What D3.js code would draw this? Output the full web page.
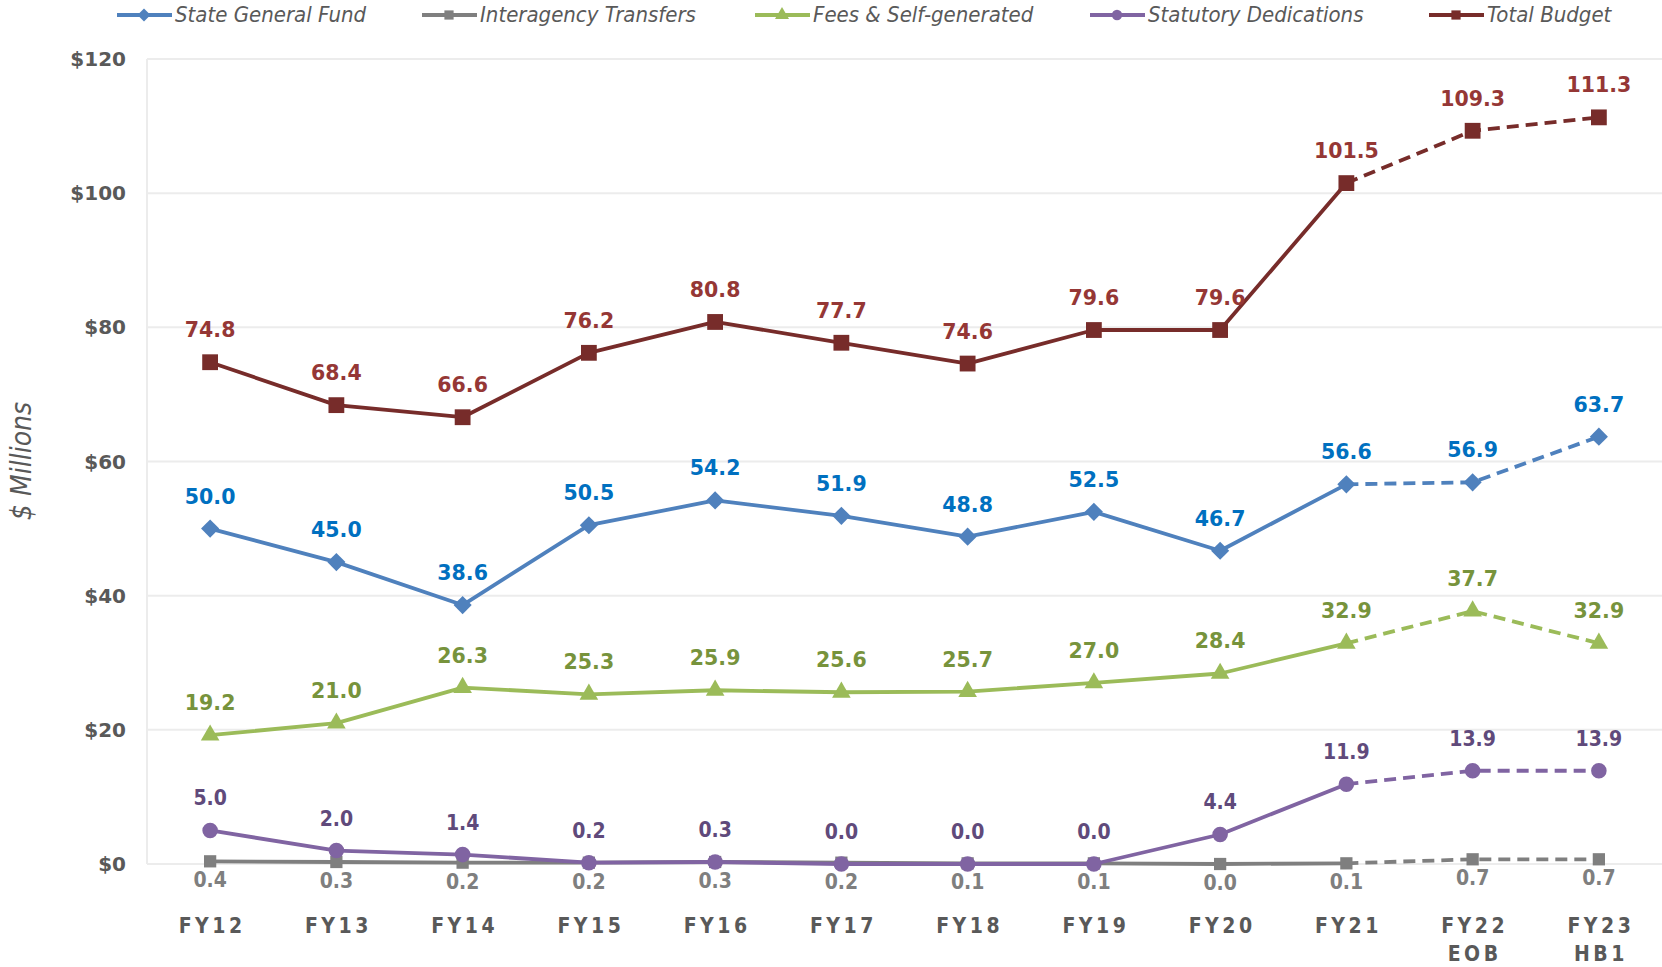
<!DOCTYPE html>
<meta charset="utf-8">
<style>
    body { margin: 0; background: #fff; }
    .grid line { stroke: #ececec; stroke-width: 2px; }
    .ytick { font-family: "DejaVu Sans", sans-serif; font-weight: bold; font-size: 20px; fill: #595959; }
    .xtick { font-family: "DejaVu Sans Condensed", "DejaVu Sans", sans-serif; font-weight: bold; font-size: 21px; fill: #595959; letter-spacing: 3.5px; }
    .legend text { font-family: "Liberation Sans Narrow", "DejaVu Sans Condensed", sans-serif; font-style: italic; font-size: 22px; fill: #595959; }
    .lab { font-family: "DejaVu Sans", sans-serif; font-weight: bold; font-size: 20.5px; }
    .lab.narrow { font-family: "DejaVu Sans Condensed", sans-serif; font-size: 21px; }
</style>
<svg width="1662" height="967"></svg>
<script src="https://d3js.org/d3.v7.min.js"></script>
<script>

    // fiscal years (second line of label after \n)
    var years = ["FY12", "FY13", "FY14", "FY15", "FY16", "FY17", "FY18", "FY19", "FY20", "FY21", "FY22\nEOB", "FY23\nHB1"];

    var stateGeneralFund = [50.0, 45.0, 38.6, 50.5, 54.2, 51.9, 48.8, 52.5, 46.7, 56.6, 56.9, 63.7];
    var interagency = [0.4, 0.3, 0.2, 0.2, 0.3, 0.2, 0.1, 0.1, 0.0, 0.1, 0.7, 0.7];
    var feesSelfGen = [19.2, 21.0, 26.3, 25.3, 25.9, 25.6, 25.7, 27.0, 28.4, 32.9, 37.7, 32.9];
    var statutory = [5.0, 2.0, 1.4, 0.2, 0.3, 0.0, 0.0, 0.0, 4.4, 11.9, 13.9, 13.9];
    var totalBudget = [74.8, 68.4, 66.6, 76.2, 80.8, 77.7, 74.6, 79.6, 79.6, 101.5, 109.3, 111.3];

    var yTicks = [0, 20, 40, 60, 80, 100, 120];

    // last actual year; after this the line is dashed
    var actualIdx = 9;

    var series = [
        {name: "State General Fund", values: stateGeneralFund, color: "#4F81BD", label: "#0070C0", sym: d3.symbolSquare, rot: 45, size: 165, below: false, narrow: false},
        {name: "Interagency Transfers", values: interagency, color: "#7F7F7F", label: "#7F7F7F", sym: d3.symbolSquare, rot: 0, size: 150, below: true, narrow: true},
        {name: "Fees & Self-generated", values: feesSelfGen, color: "#9BBB59", label: "#77933C", sym: d3.symbolTriangle, rot: 0, size: 150, below: false, narrow: false},
        {name: "Statutory Dedications", values: statutory, color: "#8064A2", label: "#604A7B", sym: d3.symbolCircle, rot: 0, size: 190, below: false, narrow: true},
        {name: "Total Budget", values: totalBudget, color: "#772C2A", label: "#953735", sym: d3.symbolSquare, rot: 0, size: 250, below: false, narrow: false}
    ];

    var svg = d3.select("svg"),
        width = +svg.attr("width"),
        height = +svg.attr("height");

    var plotL = 147, plotR = 1662, plotT = 59, plotB = 864;

    var x = d3.scalePoint().domain(years).range([plotL, plotR]).padding(0.5);
    var y = d3.scaleLinear().domain([0, 120]).range([plotB, plotT]);

    // gridlines
    var grid = svg.append("g").attr("class", "grid");
    grid.selectAll("line.h")
        .data(yTicks)
        .enter()
        .append("line")
        .attr("x1", plotL).attr("x2", plotR)
        .attr("y1", function(d) { return y(d); })
        .attr("y2", function(d) { return y(d); });
    grid.append("line")
        .attr("x1", plotL).attr("x2", plotL)
        .attr("y1", plotT).attr("y2", plotB);

    // y axis labels
    svg.append("g")
        .selectAll("text")
        .data(yTicks)
        .enter()
        .append("text")
        .attr("class", "ytick")
        .attr("x", 126)
        .attr("y", function(d) { return y(d) + 7; })
        .attr("text-anchor", "end")
        .text(function(d) { return "$" + d; });

    svg.append("text")
        .attr("transform", "translate(31," + 461 + ") rotate(-90)")
        .attr("text-anchor", "middle")
        .attr("font-family", "Liberation Sans Narrow, DejaVu Sans Condensed, sans-serif")
        .attr("font-style", "italic")
        .attr("font-size", 28)
        .attr("fill", "#595959")
        .text("$ Millions");

    // x labels
    var xl = svg.append("g")
        .selectAll("text")
        .data(years)
        .enter()
        .append("text")
        .attr("class", "xtick")
        .attr("text-anchor", "middle")
        .attr("transform", function(d) { return "translate(" + (x(d) + 2) + ",933)"; });
    xl.selectAll("tspan")
        .data(function(d) { return d.split("\n"); })
        .enter()
        .append("tspan")
        .attr("x", 0)
        .attr("dy", function(d, i) { return i ? 28 : 0; })
        .text(function(d) { return d; });

    var line = d3.line()
        .x(function(d) { return x(years[d.i]); })
        .y(function(d) { return y(d.v); });

    series.forEach(function(s) {
        var pts = s.values.map(function(v, i) { return {i: i, v: v}; });
        var g = svg.append("g");

        g.append("path")
            .attr("d", line(pts.slice(0, actualIdx + 1)))
            .attr("fill", "none")
            .attr("stroke", s.color)
            .attr("stroke-width", 3.8)
            .attr("stroke-linejoin", "round");
        g.append("path")
            .attr("d", line(pts.slice(actualIdx)))
            .attr("fill", "none")
            .attr("stroke", s.color)
            .attr("stroke-width", 3.8)
            .attr("stroke-dasharray", "12,7");

        g.selectAll("path.m")
            .data(pts)
            .enter()
            .append("path")
            .attr("d", d3.symbol().type(s.sym).size(s.size))
            .attr("fill", s.color)
            .attr("transform", function(d) {
                return "translate(" + x(years[d.i]) + "," + y(d.v) + ") rotate(" + s.rot + ")";
            });

        g.selectAll("text")
            .data(pts)
            .enter()
            .append("text")
            .attr("class", s.narrow ? "lab narrow" : "lab")
            .attr("fill", s.label)
            .attr("font-weight", s.below ? "normal" : "bold")
            .attr("text-anchor", "middle")
            .attr("x", function(d) { return x(years[d.i]); })
            .attr("y", function(d) { return s.below ? y(d.v) + 26 : y(d.v) - 25; })
            .text(function(d) { return d.v.toFixed(1); });
    });

    // legend
    var legX = [117, 422, 755, 1090, 1429];
    var leg = svg.append("g").attr("class", "legend")
        .selectAll("g")
        .data(series)
        .enter()
        .append("g")
        .attr("transform", function(d, i) { return "translate(" + legX[i] + ",15)"; });
    leg.append("line")
        .attr("x1", 0).attr("x2", 55)
        .attr("stroke", function(d) { return d.color; })
        .attr("stroke-width", 4);
    leg.append("path")
        .attr("d", function(d) { return d3.symbol().type(d.sym).size(85)(); })
        .attr("transform", function(d) { return "translate(27,0) rotate(" + d.rot + ")"; })
        .attr("fill", function(d) { return d.color; });
    leg.append("text")
        .attr("x", 58)
        .attr("y", 7)
        .text(function(d) { return d.name; });

</script>
